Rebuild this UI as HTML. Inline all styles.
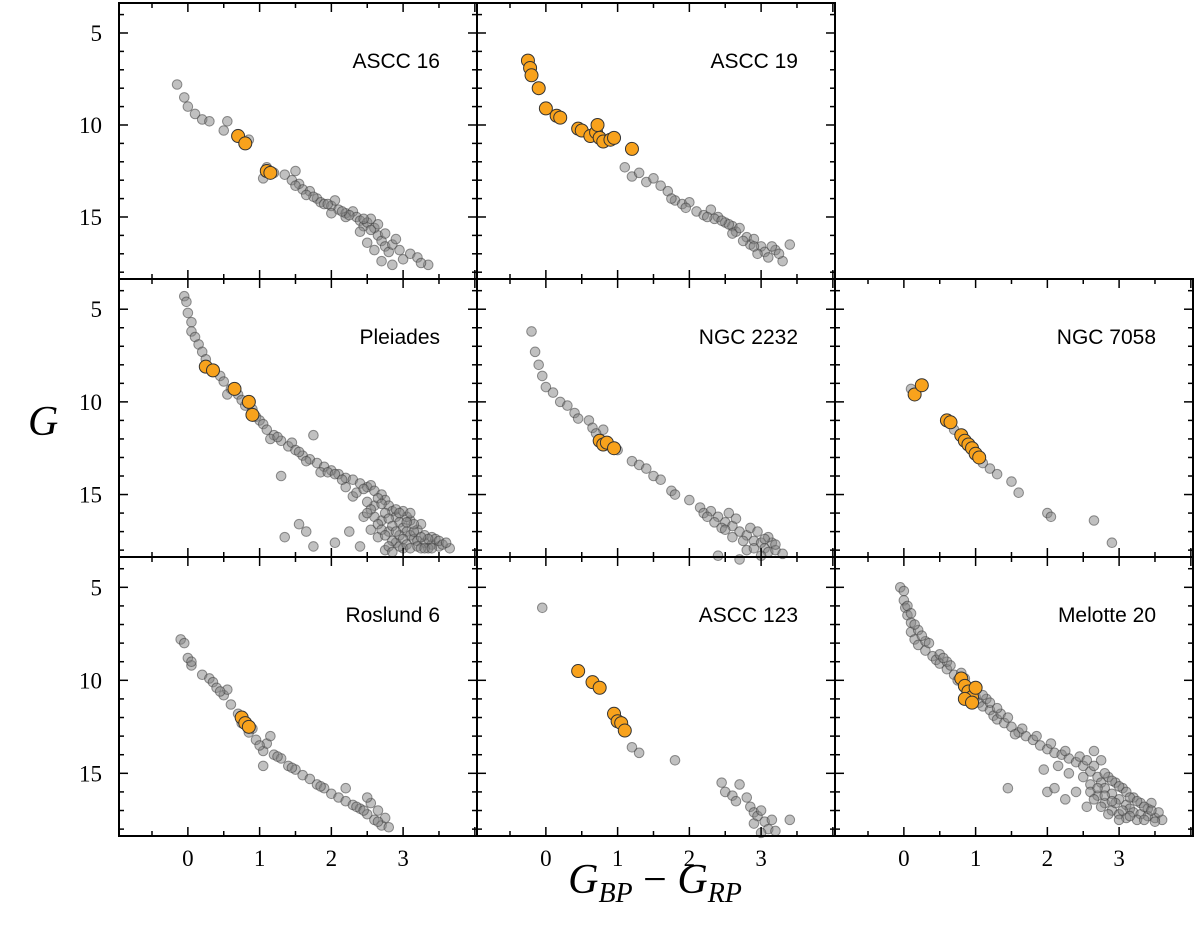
<!DOCTYPE html>
<html><head><meta charset="utf-8"><style>
html,body{margin:0;padding:0;background:#fff;}
svg{display:block;}
.tl{font-family:"Liberation Serif",serif;font-size:23px;fill:#000;}
.tt{font-family:"Liberation Sans",sans-serif;font-size:21px;fill:#000;}
</style></head><body>
<svg id="fig" width="1200" height="931" viewBox="0 0 1200 931">
<text x="28" y="435" font-family="Liberation Serif,serif" font-style="italic" font-size="42">G</text>
<text x="655" y="893" text-anchor="middle" font-family="Liberation Serif,serif" font-style="italic" font-size="42">G<tspan font-size="28" dy="9">BP</tspan><tspan dy="-9" font-style="normal"> − </tspan>G<tspan font-size="28" dy="9">RP</tspan></text>
</svg>
<script>
const xTicks=[0,1,2,3];
const yTicks=[5,10,15];
const names=["ASCC 16","ASCC 19","Pleiades","NGC 2232","NGC 7058","Roslund 6","ASCC 123","Melotte 20"];
const greyASCC16=[[-0.15,7.8],[-0.05,8.5],[0,9.0],[0.1,9.4],[0.2,9.7],[0.3,9.8],[0.55,9.8],[0.5,10.3],[0.85,10.8],[0.7,10.5],[1.1,12.3],[1.2,12.6],[1.35,12.7],[1.45,13.0],[1.5,12.5],[1.55,13.2],[1.6,13.5],[1.7,13.6],[1.8,14.0],[1.85,14.2],[1.9,14.3],[2.0,14.4],[2.05,14.1],[2.1,14.6],[2.2,14.8],[2.3,14.7],[2.35,15.0],[2.4,15.2],[2.45,15.5],[2.5,15.3],[2.55,15.1],[2.6,15.6],[2.65,16.0],[2.7,16.3],[2.75,16.6],[2.8,16.9],[2.85,16.5],[2.9,16.2],[2.95,16.8],[3.0,17.3],[3.1,17.0],[3.2,17.2],[3.35,17.6],[2.7,17.4],[2.5,16.4],[2.6,16.8],[2.4,15.8],[2.2,15.0],[2.0,14.8],[1.75,13.9],[1.5,13.3],[3.25,17.5],[1.05,12.9],[2.85,17.6],[1.65,13.8],[2.25,14.9],[2.55,15.7],[1.95,14.3],[2.15,14.7],[2.45,15.1],[2.65,15.4],[2.75,15.9]];
const orangeASCC16=[[0.7,10.6],[0.8,11.0],[1.1,12.5],[1.15,12.6]];
const greyASCC19=[[1.1,12.3],[1.2,12.8],[1.3,12.6],[1.4,13.1],[1.5,12.9],[1.6,13.3],[1.7,13.6],[1.8,14.1],[1.9,14.3],[2.0,14.2],[2.1,14.7],[2.2,14.9],[2.3,14.6],[2.4,15.0],[2.5,15.3],[2.6,15.5],[2.65,15.8],[2.7,15.6],[2.8,16.1],[2.85,16.5],[2.9,16.2],[3.0,16.6],[3.05,16.9],[3.1,17.2],[3.2,16.8],[3.3,17.4],[3.4,16.5],[2.95,17.0],[3.15,16.6],[2.75,16.3],[1.75,14.0],[2.35,15.1],[3.25,17.0],[2.55,15.4],[2.45,15.2],[1.95,14.5],[2.25,15.0],[2.6,15.9],[2.9,16.6]];
const orangeASCC19=[[-0.25,6.5],[-0.22,6.9],[-0.2,7.3],[-0.1,8.0],[0,9.1],[0.15,9.5],[0.2,9.6],[0.45,10.2],[0.5,10.3],[0.62,10.6],[0.7,10.4],[0.72,10.0],[0.75,10.7],[0.8,10.9],[0.9,10.8],[0.95,10.7],[1.2,11.3]];
const greyPleiades=[[-0.05,4.3],[-0.02,4.6],[0,5.2],[0.05,5.7],[0.05,6.2],[0.1,6.5],[0.15,6.9],[0.2,7.3],[0.25,7.7],[0.35,8.3],[0.45,8.6],[0.5,8.9],[0.6,9.3],[0.7,9.6],[0.75,9.9],[0.8,10.2],[0.9,10.4],[0.95,10.8],[1.0,11.0],[1.05,11.2],[1.1,11.5],[1.2,11.8],[1.3,12.1],[1.4,12.4],[1.45,12.2],[1.5,12.6],[1.6,12.9],[1.7,13.1],[1.75,11.8],[1.8,13.3],[1.9,13.5],[2.0,13.7],[2.1,13.9],[2.2,14.1],[2.3,14.2],[2.4,14.4],[2.5,14.6],[2.55,14.5],[2.6,14.8],[2.7,15.0],[2.75,15.3],[2.8,15.6],[2.85,15.9],[2.9,16.2],[2.95,16.5],[3.0,16.8],[3.05,17.0],[3.1,17.2],[3.15,17.4],[3.2,17.5],[3.3,17.6],[3.4,17.7],[3.5,17.8],[3.65,17.9],[2.6,15.6],[2.7,16.4],[2.8,17.0],[2.9,17.6],[3.0,17.9],[3.1,16.4],[3.2,16.9],[3.3,17.2],[3.4,17.3],[2.5,15.4],[2.45,16.2],[2.65,17.3],[2.75,18.0],[2.85,17.5],[2.95,17.2],[3.05,16.2],[3.25,16.6],[3.35,17.9],[2.55,16.9],[2.4,17.8],[2.3,15.1],[2.2,14.6],[1.3,14.0],[1.35,17.3],[1.55,16.6],[1.65,17.0],[1.75,17.8],[2.05,17.6],[2.25,17.0],[0.55,9.6],[1.15,12.0],[1.85,13.8],[2.35,14.9],[2.9,15.8],[3.0,15.9],[3.1,16.0],[3.45,17.4],[1.25,11.9],[1.55,12.7],[1.65,13.2],[1.95,13.8],[2.05,13.9],[2.15,14.2],[2.45,14.7],[2.65,15.2],[2.7,15.5],[2.75,16.0],[2.8,16.3],[2.85,16.7],[2.9,17.0],[2.95,17.8],[3.0,17.4],[3.05,17.7],[3.1,17.9],[3.15,17.0],[3.2,17.8],[3.25,17.9],[3.3,17.9],[3.35,17.4],[3.4,17.9],[3.5,17.5],[3.55,17.7],[2.6,16.2],[2.65,16.6],[2.7,16.9],[2.75,17.2],[2.8,17.8],[2.85,18.1],[2.55,15.8],[2.5,16.0],[3.6,17.6],[3.15,16.6],[3.25,17.3],[2.95,16.0],[3.05,16.5]];
const orangePleiades=[[0.25,8.1],[0.35,8.3],[0.65,9.3],[0.85,10.0],[0.9,10.7]];
const greyNGC2232=[[-0.2,6.2],[-0.15,7.3],[-0.1,8.0],[-0.05,8.6],[0,9.2],[0.1,9.5],[0.2,10.0],[0.3,10.2],[0.4,10.6],[0.45,10.9],[0.6,11.0],[0.65,11.4],[0.8,11.5],[1.0,12.6],[1.2,13.2],[1.3,13.4],[1.4,13.6],[1.5,14.0],[1.6,14.2],[1.75,14.8],[1.8,15.0],[2.0,15.3],[2.15,15.7],[2.2,16.0],[2.3,15.9],[2.4,16.2],[2.5,16.5],[2.55,16.0],[2.6,16.7],[2.65,16.3],[2.7,17.0],[2.8,17.2],[2.85,16.8],[2.9,17.5],[3.0,17.6],[3.05,17.9],[3.1,18.1],[3.15,17.6],[3.2,18.0],[3.3,18.2],[3.0,18.3],[2.8,18.0],[2.4,18.3],[2.7,18.5],[2.35,16.5],[2.95,17.0],[3.1,17.3],[2.45,16.8],[2.75,17.5],[0.7,11.7],[2.25,16.2],[2.5,16.9],[2.6,17.3],[2.9,17.9],[3.05,17.4],[3.2,17.7]];
const orangeNGC2232=[[0.75,12.1],[0.8,12.3],[0.85,12.2],[0.95,12.5]];
const greyNGC7058=[[0.1,9.3],[1.1,13.3],[1.2,13.6],[1.5,14.3],[1.6,14.9],[2.0,16.0],[2.05,16.2],[2.65,16.4],[2.9,17.6],[0.7,11.5],[1.3,13.9]];
const orangeNGC7058=[[0.15,9.6],[0.25,9.1],[0.6,11.0],[0.65,11.1],[0.8,11.8],[0.85,12.1],[0.9,12.3],[0.95,12.5],[1.0,12.8],[1.05,13.0]];
const greyRoslund6=[[-0.1,7.8],[-0.05,8.0],[0,8.8],[0.05,9.2],[0.2,9.7],[0.3,9.9],[0.35,10.1],[0.4,10.4],[0.5,10.8],[0.55,10.5],[0.6,11.3],[0.7,11.8],[0.75,12.3],[0.85,12.8],[0.95,13.2],[1.05,13.8],[1.1,13.4],[1.2,14.0],[1.3,14.2],[1.4,14.6],[1.5,14.8],[1.6,15.1],[1.7,15.3],[1.8,15.6],[1.9,15.8],[2.0,16.1],[2.1,16.3],[2.2,16.5],[2.3,16.7],[2.4,16.9],[2.5,17.2],[2.55,16.6],[2.6,17.5],[2.7,17.8],[2.8,17.9],[2.75,17.4],[2.2,15.8],[2.5,16.3],[1.05,14.6],[1.15,13.0],[0.9,12.6],[0.05,9.0],[0.45,10.6],[2.65,17.0],[1.0,13.5],[1.25,14.1],[1.45,14.7],[1.85,15.7],[2.35,16.8],[2.65,17.6],[2.45,17.0]];
const orangeRoslund6=[[0.75,12.0],[0.8,12.3],[0.85,12.5]];
const greyASCC123=[[-0.05,6.1],[1.2,13.6],[1.3,13.9],[1.8,14.3],[2.45,15.5],[2.5,16.0],[2.6,16.2],[2.7,15.6],[2.8,16.3],[2.85,16.8],[2.9,17.1],[2.95,17.3],[3.0,17.0],[3.05,17.6],[3.1,18.0],[3.2,18.1],[3.15,17.5],[3.4,17.5],[2.65,16.5],[2.9,17.7],[3.0,18.2]];
const orangeASCC123=[[0.45,9.5],[0.65,10.1],[0.75,10.4],[0.95,11.8],[1.0,12.2],[1.05,12.3],[1.1,12.7]];
const greyMelotte20=[[-0.05,5.0],[0,5.2],[0,5.7],[0.02,6.1],[0.05,6.5],[0.1,6.9],[0.1,7.4],[0.15,7.8],[0.2,8.1],[0.3,8.4],[0.4,8.7],[0.45,8.9],[0.5,9.1],[0.6,9.4],[0.7,9.7],[0.75,10.0],[0.9,10.5],[1.0,10.9],[1.05,11.2],[1.1,11.4],[1.2,11.6],[1.25,11.9],[1.3,12.1],[1.4,12.3],[1.5,12.5],[1.6,12.8],[1.7,13.0],[1.8,13.2],[1.9,13.5],[2.0,13.7],[2.1,13.9],[2.2,14.0],[2.3,14.2],[2.4,14.4],[2.5,14.6],[2.6,14.9],[2.7,15.2],[2.75,15.5],[2.8,15.8],[2.9,16.1],[3.0,16.4],[3.1,16.7],[3.15,16.9],[3.2,17.1],[3.3,17.2],[3.4,17.3],[3.5,17.4],[3.6,17.5],[2.6,15.6],[2.7,16.2],[2.8,16.6],[2.9,17.0],[3.0,17.2],[3.05,15.8],[3.2,16.3],[3.3,16.6],[3.4,16.9],[3.55,17.1],[2.5,15.2],[2.4,16.0],[2.3,15.0],[2.0,16.0],[2.1,15.8],[2.25,16.4],[1.45,15.8],[1.95,14.8],[2.15,14.6],[2.65,13.8],[2.75,14.3],[0.3,7.9],[0.5,8.6],[0.6,9.0],[0.2,7.3],[1.15,11.0],[1.35,11.8],[1.55,12.9],[3.1,17.4],[3.25,17.5],[2.95,15.5],[2.85,15.2],[3.45,16.6],[2.55,16.8],[0.05,6.0],[0.1,6.4],[0.15,7.0],[0.25,7.6],[0.35,8.0],[0.55,8.8],[0.65,9.2],[0.8,9.6],[0.85,9.9],[1.1,10.8],[1.2,11.2],[1.3,11.5],[1.45,12.0],[1.65,12.6],[1.85,13.0],[2.05,13.4],[2.25,13.8],[2.45,14.1],[2.55,14.3],[2.65,14.6],[2.8,15.0],[2.9,15.4],[3.0,15.7],[3.1,16.0],[3.15,16.3],[3.25,16.5],[3.35,16.8],[3.45,17.0],[3.5,17.6],[2.6,16.0],[2.65,16.4],[2.75,16.8],[2.85,17.2],[2.95,16.6],[3.05,17.0],[3.15,17.3],[3.35,17.5],[3.0,17.5],[2.7,15.8],[2.8,16.2],[2.9,16.5]];
const orangeMelotte20=[[0.8,9.9],[0.85,10.3],[0.9,10.6],[0.95,10.9],[1.0,10.4],[0.85,11.0],[0.95,11.2]];
const greyAll=[greyASCC16,greyASCC19,greyPleiades,greyNGC2232,greyNGC7058,greyRoslund6,greyASCC123,greyMelotte20];
const orangeAll=[orangeASCC16,orangeASCC19,orangePleiades,orangeNGC2232,orangeNGC7058,orangeRoslund6,orangeASCC123,orangeMelotte20];

const NS='http://www.w3.org/2000/svg';
const svg=document.getElementById('fig');
const colX=[119,477,835], rowY=[3,279,557], W=358, H=[276,278,279];
const XMIN=-0.96, XMAX=4.03, YMIN=3.37, YMAX=18.37;
const slots=[[0,0],[0,1],[1,0],[1,1],[1,2],[2,0],[2,1],[2,2]];
function mk(tag,attrs,parent){const e=document.createElementNS(NS,tag);for(const k in attrs)e.setAttribute(k,attrs[k]);parent.appendChild(e);return e;}
slots.forEach(([r,c],i)=>{
  const x0=colX[c], y0=rowY[r], h=H[r];
  const sx=v=>x0+(v-XMIN)/(XMAX-XMIN)*W;
  const sy=v=>y0+(v-YMIN)/(YMAX-YMIN)*h;
  const g=mk('g',{},svg);
  
  
  greyAll[i].forEach(p=>{
    const e=mk('circle',{cx:sx(p[0]),cy:sy(p[1]),r:4.8,fill:'rgba(130,130,130,0.5)',stroke:'rgba(60,60,60,0.55)','stroke-width':1},g);
    
    
  });
  orangeAll[i].forEach(p=>{
    const e=mk('circle',{cx:sx(p[0]),cy:sy(p[1]),r:6.5,fill:'#f8a21c',stroke:'#333','stroke-width':1},g);
    
    
  });
  for(let v=-0.5;v<=4;v+=0.5){
    const X=sx(v); if(X<=x0+1||X>=x0+W-1)continue;
    const L=Number.isInteger(v)?9:5;
    mk('line',{x1:X,x2:X,y1:y0+h,y2:y0+h-L,stroke:'#000','stroke-width':1.5},g);
    mk('line',{x1:X,x2:X,y1:y0,y2:y0+L,stroke:'#000','stroke-width':1.5},g);
  }
  for(let v=4;v<=18;v+=1){
    const Y=sy(v); if(Y<=y0+1||Y>=y0+h-1)continue;
    const L=(v%5===0)?9:5;
    mk('line',{x1:x0,x2:x0+L,y1:Y,y2:Y,stroke:'#000','stroke-width':1.5},g);
    mk('line',{x1:x0+W,x2:x0+W-L,y1:Y,y2:Y,stroke:'#000','stroke-width':1.5},g);
  }
  mk('rect',{x:x0,y:y0,width:W,height:h,fill:'none',stroke:'#000','stroke-width':2},g);
  const t=mk('text',{x:x0+W-37,y:y0+65,'text-anchor':'end',class:'tt'},g);
  t.textContent=names[i];
  
  
  if(c===0){yTicks.forEach(v=>{const e=mk('text',{x:x0-17,y:sy(v)+8,'text-anchor':'end',class:'tl'},g);e.textContent=v;
    
    });}
  if(r===2){xTicks.forEach(v=>{const e=mk('text',{x:sx(v),y:y0+h+30,'text-anchor':'middle',class:'tl'},g);e.textContent=v;
    
    });}
});
</script>
</body></html>
